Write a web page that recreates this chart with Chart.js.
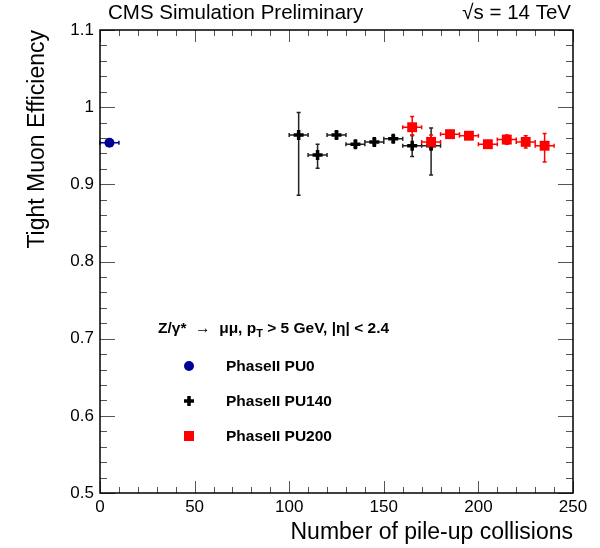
<!DOCTYPE html>
<html>
<head>
<meta charset="utf-8">
<script src="https://cdn.jsdelivr.net/npm/chart.js@4.4.0/dist/chart.umd.min.js"></script>
<style>
  body { margin: 0; background: #fff; }
</style>
</head>
<body>
<canvas id="myChart" width="600" height="548"></canvas>
<script>
// values
var pu0X = [5];
var pu0Y = [0.954];
var pu0ErrUp = [0.002];
var pu0ErrDown = [0.002];

var pu140X = [105, 115, 125, 135, 145, 155, 165, 175];
var pu140Y = [0.964, 0.938, 0.964, 0.952, 0.955, 0.959, 0.950, 0.950];
var pu140ErrUp = [0.029, 0.014, 0.004, 0.004, 0.004, 0.004, 0.014, 0.023];
var pu140ErrDown = [0.078, 0.017, 0.004, 0.004, 0.004, 0.004, 0.014, 0.038];

var pu200X = [165, 175, 185, 195, 205, 215, 225, 235];
var pu200Y = [0.974, 0.955, 0.965, 0.963, 0.952, 0.958, 0.955, 0.950];
var pu200ErrUp = [0.014, 0.009, 0.004, 0.004, 0.004, 0.006, 0.008, 0.016];
var pu200ErrDown = [0.011, 0.009, 0.004, 0.004, 0.004, 0.006, 0.008, 0.021];

var xHalfWidth = 5; // bin half width (x error)

var seriesNames = ['PhaseII PU0', 'PhaseII PU140', 'PhaseII PU200'];

var FONT = '"Liberation Sans", Arial, Helvetica, sans-serif';
var BLUE = '#000099';
var RED = '#ff0000';

function toPoints(xs, ys) {
  return xs.map(function(x, i) { return { x: x, y: ys[i] }; });
}

// error bars with small end caps, drawn under the markers
var errorBars = {
  id: 'errorBars',
  beforeDatasetsDraw: function(chart) {
    var ctx = chart.ctx, sx = chart.scales.x, sy = chart.scales.y;
    function bars(xv, yv, up, down, color) {
      ctx.save();
      ctx.strokeStyle = color;
      ctx.lineWidth = 1.5;
      ctx.beginPath();
      for (var i = 0; i < xv.length; i++) {
        var px = sx.getPixelForValue(xv[i]);
        var py = sy.getPixelForValue(yv[i]);
        var x1 = sx.getPixelForValue(xv[i] - xHalfWidth);
        var x2 = sx.getPixelForValue(xv[i] + xHalfWidth);
        var y1 = sy.getPixelForValue(yv[i] + up[i]);
        var y2 = sy.getPixelForValue(yv[i] - down[i]);
        ctx.moveTo(x1, py); ctx.lineTo(x2, py);
        ctx.moveTo(x1, py - 2); ctx.lineTo(x1, py + 2);
        ctx.moveTo(x2, py - 2); ctx.lineTo(x2, py + 2);
        ctx.moveTo(px, y1); ctx.lineTo(px, y2);
        ctx.moveTo(px - 2, y1); ctx.lineTo(px + 2, y1);
        ctx.moveTo(px - 2, y2); ctx.lineTo(px + 2, y2);
      }
      ctx.stroke();
      ctx.restore();
    }
    bars(pu0X, pu0Y, pu0ErrUp, pu0ErrDown, BLUE);
    bars(pu140X, pu140Y, pu140ErrUp, pu140ErrDown, '#222');
    bars(pu200X, pu200Y, pu200ErrUp, pu200ErrDown, RED);
  }
};

// ROOT style frame, inner ticks and all the text
var decorations = {
  id: 'decorations',
  afterDraw: function(chart) {
    var ctx = chart.ctx, a = chart.chartArea, sx = chart.scales.x, sy = chart.scales.y;
    ctx.save();

    // ticks
    ctx.strokeStyle = '#555';
    ctx.lineWidth = 1;
    ctx.beginPath();
    for (var i = 0; i <= 25; i++) {
      var px = Math.round(sx.getPixelForValue(i * 10)) + 0.5;
      var len = (i % 5 === 0) ? 12 : 6;
      ctx.moveTo(px, a.bottom); ctx.lineTo(px, a.bottom - len);
      ctx.moveTo(px, a.top); ctx.lineTo(px, a.top + len);
    }
    for (var j = 0; j <= 30; j++) {
      var py = Math.round(sy.getPixelForValue(0.5 + j * 0.02)) + 0.5;
      var ylen = (j % 5 === 0) ? 15 : 7;
      ctx.moveTo(a.left, py); ctx.lineTo(a.left + ylen, py);
      ctx.moveTo(a.right, py); ctx.lineTo(a.right - ylen, py);
    }
    ctx.stroke();

    // frame
    ctx.strokeStyle = '#000';
    ctx.lineWidth = 1.5;
    ctx.strokeRect(a.left, a.top, a.right - a.left, a.bottom - a.top);

    // header texts
    ctx.fillStyle = '#000';
    ctx.textBaseline = 'alphabetic';
    ctx.font = '20.5px ' + FONT;
    ctx.textAlign = 'left';
    ctx.fillText('CMS Simulation Preliminary', 108, 19);
    ctx.textAlign = 'right';
    ctx.fillText('\u221As = 14 TeV', 571, 19);

    // axis titles
    ctx.font = '23px ' + FONT;
    ctx.textAlign = 'right';
    ctx.fillText('Number of pile-up collisions', a.right, 539);
    ctx.save();
    ctx.translate(44, a.top);
    ctx.rotate(-Math.PI / 2);
    ctx.fillText('Tight Muon Efficiency', 0, 0);
    ctx.restore();

    // legend header
    ctx.textAlign = 'left';
    var hx = 158, hy = 333;
    ctx.font = 'bold 15.5px ' + FONT;
    var s1 = 'Z/\u03B3*  \u2192  \u03BC\u03BC, p';
    ctx.fillText(s1, hx, hy);
    hx += ctx.measureText(s1).width;
    ctx.font = 'bold 11px ' + FONT;
    ctx.fillText('T', hx, hy + 4);
    hx += ctx.measureText('T').width;
    ctx.font = 'bold 15.5px ' + FONT;
    ctx.fillText(' > 5 GeV, |\u03B7| < 2.4', hx, hy);

    // legend entries
    var mx = 189, tx = 226;
    var rows = [366, 401, 436];
    ctx.font = 'bold 15.5px ' + FONT;
    ctx.textBaseline = 'middle';
    seriesNames.forEach(function(name, k) {
      ctx.fillStyle = '#000';
      ctx.fillText(name, tx, rows[k] + 1);
    });
    ctx.fillStyle = BLUE;
    ctx.beginPath();
    ctx.arc(mx, rows[0], 5, 0, Math.PI * 2);
    ctx.fill();
    ctx.strokeStyle = '#000';
    ctx.lineWidth = 3.5;
    ctx.beginPath();
    ctx.moveTo(mx - 5, rows[1]); ctx.lineTo(mx + 5, rows[1]);
    ctx.moveTo(mx, rows[1] - 5); ctx.lineTo(mx, rows[1] + 5);
    ctx.stroke();
    ctx.fillStyle = RED;
    ctx.fillRect(mx - 5, rows[2] - 5, 10, 10);

    ctx.restore();
  }
};

var ctx = document.getElementById('myChart').getContext('2d');
var chart = new Chart(ctx, {
  type: 'scatter',
  data: {
    datasets: [{
      label: seriesNames[0],
      data: toPoints(pu0X, pu0Y),
      pointStyle: 'circle',
      pointRadius: 5,
      backgroundColor: BLUE,
      borderWidth: 0,
      order: 2
    }, {
      label: seriesNames[1],
      data: toPoints(pu140X, pu140Y),
      pointStyle: 'cross',
      pointRadius: 5,
      borderColor: '#000',
      borderWidth: 3.5,
      order: 1
    }, {
      label: seriesNames[2],
      data: toPoints(pu200X, pu200Y),
      pointStyle: 'rect',
      pointRadius: 7,
      backgroundColor: RED,
      borderWidth: 0,
      order: 0
    }]
  },
  options: {
    responsive: false,
    animation: false,
    layout: { padding: { top: 30, right: 27, left: 0, bottom: 0 } },
    plugins: {
      legend: { display: false },
      tooltip: { enabled: false }
    },
    scales: {
      x: {
        type: 'linear',
        min: 0,
        max: 250,
        grid: { display: false, drawTicks: false },
        border: { display: false },
        ticks: {
          stepSize: 50,
          padding: 4,
          color: '#000',
          font: { family: FONT, size: 17 }
        },
        afterFit: function(scale) { scale.height = 55; }
      },
      y: {
        type: 'linear',
        min: 0.5,
        max: 1.1,
        grid: { display: false, drawTicks: false },
        border: { display: false },
        ticks: {
          stepSize: 0.1,
          padding: 6,
          color: '#000',
          font: { family: FONT, size: 17 },
          callback: function(v) { return String(parseFloat(v.toFixed(2))); }
        },
        afterFit: function(scale) { scale.width = 100; }
      }
    }
  },
  plugins: [errorBars, decorations]
});
</script>
</body>
</html>
